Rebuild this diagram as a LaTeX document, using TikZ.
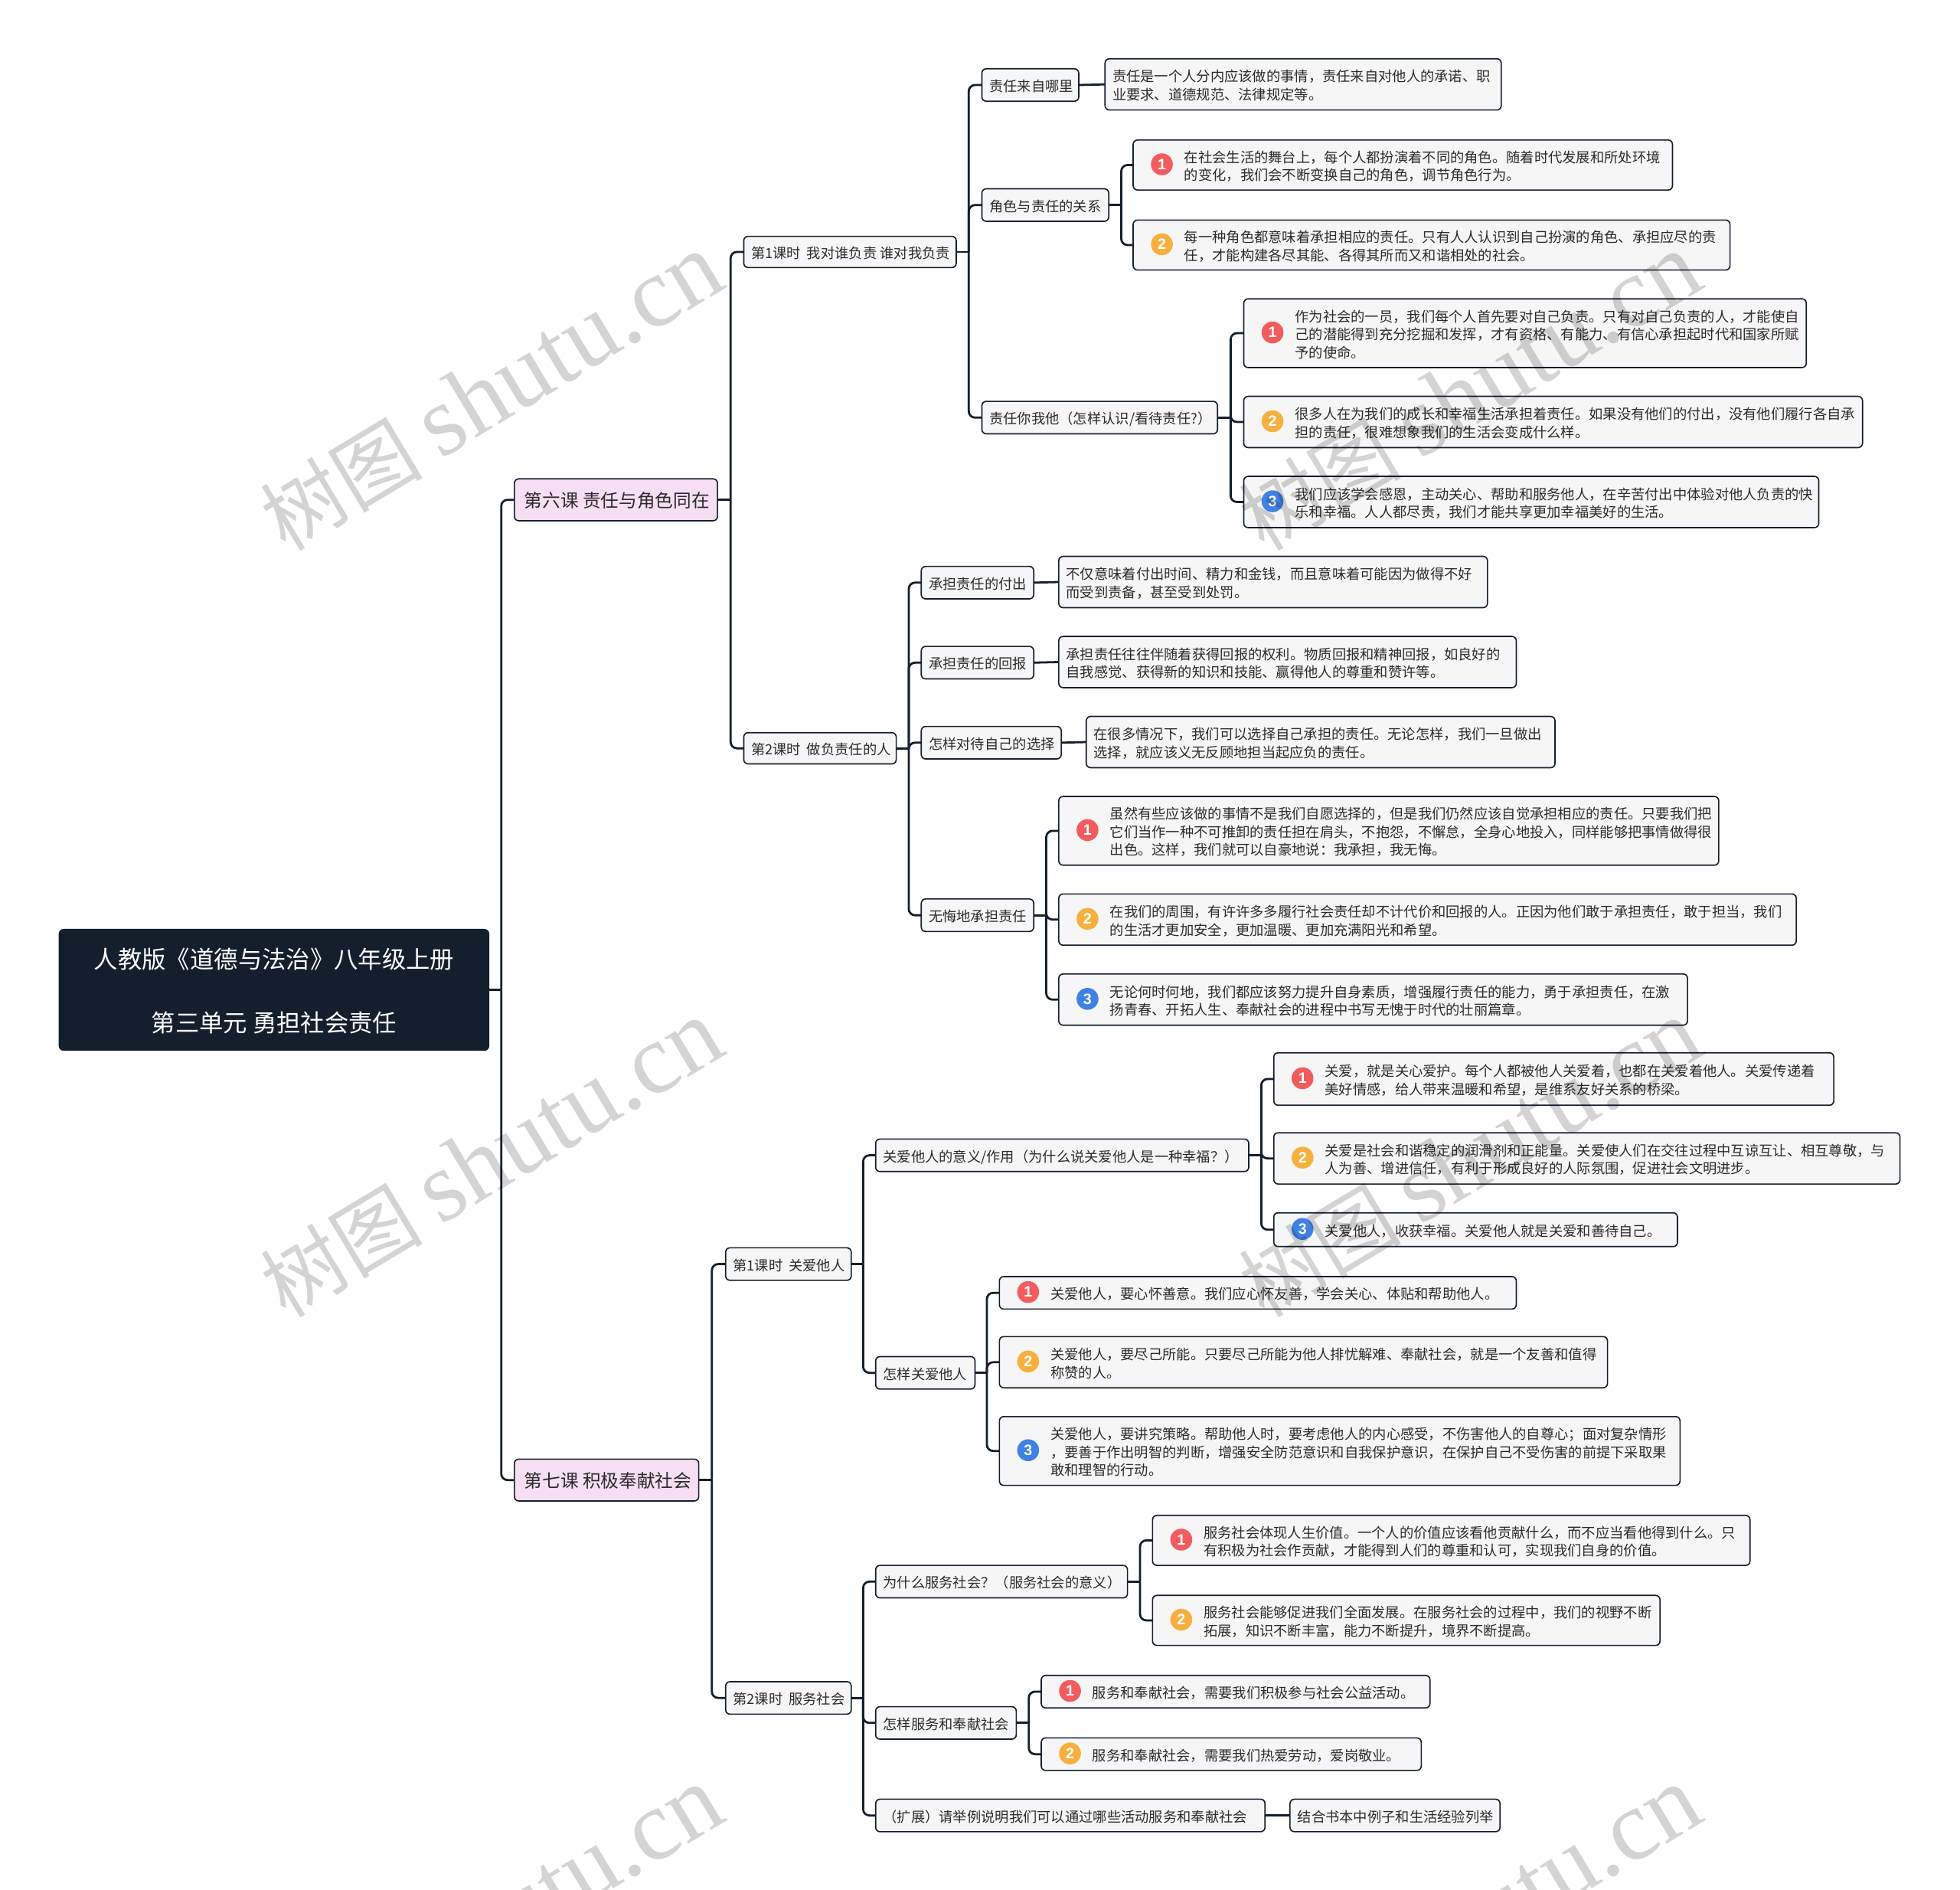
\documentclass[tikz,border=0pt]{standalone}
\usepackage{fontspec}
\setmainfont{Noto Sans CJK SC}
\newfontfamily\wmlatin{Liberation Serif}
\newfontfamily\numfont{Liberation Sans}
\definecolor{ink}{HTML}{141F2E}
\definecolor{txt}{HTML}{2B2B2B}
\definecolor{boxfill}{HTML}{F6F6F6}
\definecolor{pinkfill}{HTML}{F6DFF2}
\definecolor{bul1}{HTML}{F25C5F}
\definecolor{bul2}{HTML}{F7B03F}
\definecolor{bul3}{HTML}{3F82E4}
\tikzset{
  shell/.style={draw=ink,line width=1pt,rounded corners=3.5pt,fill=boxfill,inner sep=0pt,outer sep=0pt},
  pinkshell/.style={shell,fill=pinkfill},
  rootshell/.style={shell,fill=ink,draw=ink},
  labeltxt/.style={inner sep=0pt,outer sep=0pt,anchor=west,align=left,text=txt,font=\fontsize{11.2}{14.4}\selectfont},
  bigtxt/.style={labeltxt,font=\fontsize{14.5}{18}\selectfont},
  roottxt/.style={inner sep=0pt,outer sep=0pt,align=center,text=white,font=\fontsize{19.2}{25.5}\selectfont},
  bullet/.style={circle,inner sep=0pt,outer sep=0pt,minimum size=17.5pt,text=white,font=\numfont\fontsize{12}{12}\selectfont\bfseries},
  link/.style={draw=ink,line width=1.7pt,rounded corners=5pt},
  watermark/.style={text=black,text opacity=0.17,rotate=31,font=\fontsize{65}{80}\selectfont,inner sep=0pt},
}
% shell with text: name, x0,y0,x1,y1, style, textstyle, pad, text
\newcommand\shellnode[9]{%
  \pgfmathsetmacro\bw{#4-#2}\pgfmathsetmacro\bh{#5-#3}%
  \pgfmathsetmacro\bcx{(#2+#4)/2}\pgfmathsetmacro\bcy{(#3+#5)/2}%
  \node[#6,minimum width=\bw pt,minimum height=\bh pt] (#1) at (\bcx,\bcy) {};
  \pgfmathsetmacro\bty{\bcy+2.3}\pgfmathsetmacro\btx{#2+#8}%
  \node[#7] (#1-t) at (\btx,\bty) {\strut #9\strut};
}
\newcommand\plainbox[6]{\shellnode{#1}{#2}{#3}{#4}{#5}{shell}{labeltxt}{6}{#6}}
\newcommand\iconbox[7]{%
  \shellnode{#1}{#2}{#3}{#4}{#5}{shell}{labeltxt}{41}{#7}
  \pgfmathsetmacro\icx{#2+23}\pgfmathsetmacro\icy{(#3+#5)/2-0.6}%
  \node[bullet,fill=bul#6] (#1-b) at (\icx,\icy) {#6};
}
\newcommand\joinup[3]{%
  \coordinate (tk#1) at (#3,0);
  \draw[link] (#1.east) -- (tk#1 |- #1.east);
  \foreach \c in {#2} {\draw[link] (tk#1 |- #1.east) -- (tk#1 |- \c.west) -- (\c.west);}
}
\begin{document}
\begin{tikzpicture}[x=1pt,y=-1pt]
\useasboundingbox (0,0) rectangle (1568,1511.6);
\fill[white] (0,0) rectangle (1568,1511.6);
% root
\node[rootshell,minimum width=343.5pt,minimum height=96.5pt] (root) at (219.2,791.7) {};
\node[roottxt] (root-t) at (219.3,792.6) {人教版《道德与法治》八年级上册\\\mbox{}\\第三单元 勇担社会责任};
% level 1
\shellnode{L6}{411.5}{383}{574}{416.5}{pinkshell}{bigtxt}{8}{第六课 责任与角色同在}
\shellnode{L7}{411.5}{1167}{559}{1200.5}{pinkshell}{bigtxt}{8}{第七课 积极奉献社会}
% lesson 6
\plainbox{a1}{595}{189}{765}{214}{第1课时\kern2.2pt{} 我对谁负责 谁对我负责}
\plainbox{a2}{595}{586}{717}{611}{第2课时\kern2.2pt{} 做负责任的人}
\plainbox{b1}{785.5}{55}{863}{81}{责任来自哪里}
\plainbox{b1x}{884}{47}{1201}{88}{责任是一个人分内应该做的事情，责任来自对他人的承诺、职\\业要求、道德规范、法律规定等。}
\plainbox{b2}{785.5}{151}{887}{177}{角色与责任的关系}
\iconbox{b2a}{906.5}{112}{1338}{152}{1}{在社会生活的舞台上，每个人都扮演着不同的角色。随着时代发展和所处环境\\的变化，我们会不断变换自己的角色，调节角色行为。}
\iconbox{b2b}{906.5}{176}{1384}{216}{2}{每一种角色都意味着承担相应的责任。只有人人认识到自己扮演的角色、承担应尽的责\\任，才能构建各尽其能、各得其所而又和谐相处的社会。}
\plainbox{b3}{785.5}{321}{974}{347}{责任你我他（怎样认识/看待责任?）}
\iconbox{b3a}{995}{239}{1445}{294}{1}{作为社会的一员，我们每个人首先要对自己负责。只有对自己负责的人，才能使自\\己的潜能得到充分挖掘和发挥，才有资格、有能力、有信心承担起时代和国家所赋\\予的使命。}
\iconbox{b3b}{995}{317}{1490}{358}{2}{很多人在为我们的成长和幸福生活承担着责任。如果没有他们的付出，没有他们履行各自承\\担的责任，很难想象我们的生活会变成什么样。}
\iconbox{b3c}{995}{381}{1455}{422}{3}{我们应该学会感恩，主动关心、帮助和服务他人，在辛苦付出中体验对他人负责的快\\乐和幸福。人人都尽责，我们才能共享更加幸福美好的生活。}
\plainbox{c1}{737}{453}{827}{479}{承担责任的付出}
\plainbox{c1x}{847}{445}{1190}{486}{不仅意味着付出时间、精力和金钱，而且意味着可能因为做得不好\\而受到责备，甚至受到处罚。}
\plainbox{c2}{737}{517}{827}{543}{承担责任的回报}
\plainbox{c2x}{847}{509}{1213}{550}{承担责任往往伴随着获得回报的权利。物质回报和精神回报，如良好的\\自我感觉、获得新的知识和技能、赢得他人的尊重和赞许等。}
\plainbox{c3}{737}{581}{849}{607}{怎样对待自己的选择}
\plainbox{c3x}{869}{573}{1244}{614}{在很多情况下，我们可以选择自己承担的责任。无论怎样，我们一旦做出\\选择，就应该义无反顾地担当起应负的责任。}
\plainbox{c4}{737}{719}{827}{745}{无悔地承担责任}
\iconbox{c4a}{847}{637}{1375}{692}{1}{虽然有些应该做的事情不是我们自愿选择的，但是我们仍然应该自觉承担相应的责任。只要我们把\\它们当作一种不可推卸的责任担在肩头，不抱怨，不懈怠，全身心地投入，同样能够把事情做得很\\出色。这样，我们就可以自豪地说：我承担，我无悔。}
\iconbox{c4b}{847}{715}{1437}{756}{2}{在我们的周围，有许许多多履行社会责任却不计代价和回报的人。正因为他们敢于承担责任，敢于担当，我们\\的生活才更加安全，更加温暖、更加充满阳光和希望。}
\iconbox{c4c}{847}{779}{1350}{820}{3}{无论何时何地，我们都应该努力提升自身素质，增强履行责任的能力，勇于承担责任，在激\\扬青春、开拓人生、奉献社会的进程中书写无愧于时代的壮丽篇章。}
% lesson 7
\plainbox{d1}{580.5}{998}{681}{1024}{第1课时\kern2.2pt{} 关爱他人}
\plainbox{d2}{580.5}{1345}{681}{1371}{第2课时\kern2.2pt{} 服务社会}
\plainbox{e1}{700.5}{911}{999}{937}{关爱他人的意义/作用（为什么说关爱他人是一种幸福？）}
\iconbox{e1a}{1019}{842}{1467}{884}{1}{关爱，就是关心爱护。每个人都被他人关爱着，也都在关爱着他人。关爱传递着\\美好情感，给人带来温暖和希望，是维系友好关系的桥梁。}
\iconbox{e1b}{1019}{906}{1520}{947}{2}{关爱是社会和谐稳定的润滑剂和正能量。关爱使人们在交往过程中互谅互让、相互尊敬，与\\人为善、增进信任，有利于形成良好的人际氛围，促进社会文明进步。}
\iconbox{e1c}{1019}{970}{1342}{997}{3}{关爱他人，收获幸福。关爱他人就是关爱和善待自己。}
\plainbox{e2}{700.5}{1085}{780}{1111}{怎样关爱他人}
\iconbox{e2a}{799.5}{1021}{1213}{1047}{1}{关爱他人，要心怀善意。我们应心怀友善，学会关心、体贴和帮助他人。}
\iconbox{e2b}{799.5}{1069}{1286}{1110}{2}{关爱他人，要尽己所能。只要尽己所能为他人排忧解难、奉献社会，就是一个友善和值得\\称赞的人。}
\iconbox{e2c}{799.5}{1133}{1344}{1188}{3}{关爱他人，要讲究策略。帮助他人时，要考虑他人的内心感受，不伤害他人的自尊心；面对复杂情形\\，要善于作出明智的判断，增强安全防范意识和自我保护意识，在保护自己不受伤害的前提下采取果\\敢和理智的行动。}
\plainbox{f1}{700.5}{1252}{902}{1278}{为什么服务社会？（服务社会的意义）}
\iconbox{f1a}{922}{1212}{1400}{1252}{1}{服务社会体现人生价值。一个人的价值应该看他贡献什么，而不应当看他得到什么。只\\有积极为社会作贡献，才能得到人们的尊重和认可，实现我们自身的价值。}
\iconbox{f1b}{922}{1276}{1328}{1316}{2}{服务社会能够促进我们全面发展。在服务社会的过程中，我们的视野不断\\拓展，知识不断丰富，能力不断提升，境界不断提高。}
\plainbox{f2}{700.5}{1365}{813}{1391}{怎样服务和奉献社会}
\iconbox{f2a}{833}{1340}{1144}{1366}{1}{服务和奉献社会，需要我们积极参与社会公益活动。}
\iconbox{f2b}{833}{1390}{1137}{1416}{2}{服务和奉献社会，需要我们热爱劳动，爱岗敬业。}
\plainbox{f3}{700.5}{1439}{1012}{1465}{（扩展）请举例说明我们可以通过哪些活动服务和奉献社会}
\plainbox{f3x}{1032}{1439}{1200}{1465}{结合书本中例子和生活经验列举}
% connectors
\joinup{root}{L6,L7}{401}
\joinup{L6}{a1,a2}{584.5}
\joinup{L7}{d1,d2}{569.5}
\joinup{a1}{b1,b2,b3}{775}
\joinup{a2}{c1,c2,c3,c4}{727}
\joinup{b2}{b2a,b2b}{897}
\joinup{b3}{b3a,b3b,b3c}{984.5}
\joinup{c4}{c4a,c4b,c4c}{837}
\joinup{d1}{e1,e2}{690.5}
\joinup{d2}{f1,f2,f3}{690.5}
\joinup{e1}{e1a,e1b,e1c}{1009}
\joinup{e2}{e2a,e2b,e2c}{789.5}
\joinup{f1}{f1a,f1b}{912}
\joinup{f2}{f2a,f2b}{823}
\draw[link] (b1.east) -- (b1x.west);
\draw[link] (c1.east) -- (c1x.west);
\draw[link] (c2.east) -- (c2x.west);
\draw[link] (c3.east) -- (c3x.west);
\draw[link] (f3.east) -- (f3x.west);
% watermarks
\begin{scope}
\clip (0,0) rectangle (1568,1511.6);
\foreach \wx/\wy/\wn in {393/314/1,393/927/2,393/1540/3,1176/314/4,1176/927/5,1176/1540/6}
  \node[watermark] (wm\wn) at (\wx,\wy) {树图 {\wmlatin\fontsize{80}{80}\selectfont shutu.cn}};
\end{scope}
\end{tikzpicture}
\end{document}
